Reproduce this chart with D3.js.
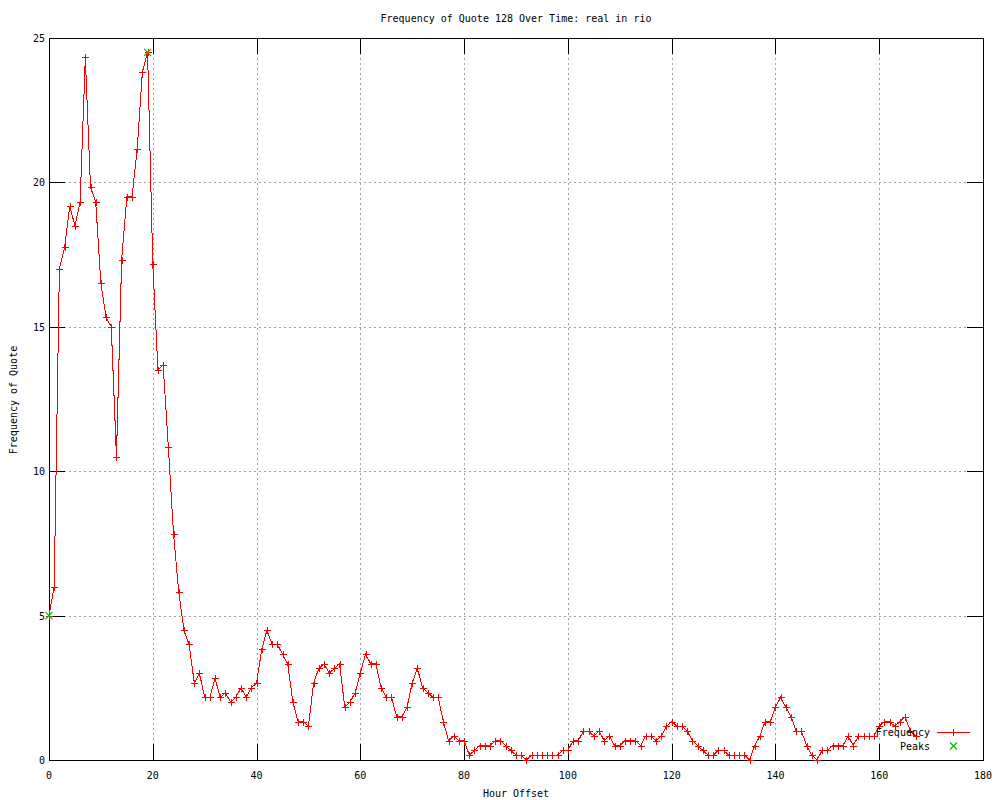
<!DOCTYPE html>
<html>
<head>
<meta charset="utf-8">
<script src="https://cdn.jsdelivr.net/npm/d3@7"></script>
<style>
  body { margin: 0; background: #fff; }
  text { font-family: "DejaVu Sans Mono", monospace; font-size: 10px; fill: #000; }
</style>
</head>
<body>
<svg id="chart" width="1000" height="800"></svg>
<script>
// frequency per hour offset (hour = index)
const values = [
  5, 6, 17, 17.75, 19.17, 18.5, 19.33, 24.33, 19.83, 19.33,
  16.5, 15.33, 15, 10.5, 17.33, 19.5, 19.5, 21.17, 23.83, 24.5,
  17.17, 13.5, 13.67, 10.83, 7.83, 5.83, 4.5, 4.0, 2.67, 3.0,
  2.17, 2.17, 2.83, 2.17, 2.33, 2.0, 2.17, 2.5, 2.17, 2.5,
  2.67, 3.83, 4.5, 4.0, 4.0, 3.67, 3.33, 2.0, 1.33, 1.33,
  1.17, 2.67, 3.17, 3.33, 3.0, 3.17, 3.33, 1.83, 2.0, 2.33,
  3.0, 3.67, 3.33, 3.33, 2.5, 2.17, 2.17, 1.5, 1.5, 1.83,
  2.67, 3.17, 2.5, 2.33, 2.17, 2.17, 1.33, 0.67, 0.83, 0.67,
  0.67, 0.17, 0.33, 0.5, 0.5, 0.5, 0.67, 0.67, 0.5, 0.33,
  0.17, 0.17, 0, 0.17, 0.17, 0.17, 0.17, 0.17, 0.17, 0.33,
  0.33, 0.67, 0.67, 1.0, 1.0, 0.83, 1.0, 0.67, 0.83, 0.5,
  0.5, 0.67, 0.67, 0.67, 0.5, 0.83, 0.83, 0.67, 0.83, 1.17,
  1.33, 1.17, 1.17, 1.0, 0.67, 0.5, 0.33, 0.17, 0.17, 0.33,
  0.33, 0.17, 0.17, 0.17, 0.17, 0, 0.5, 0.83, 1.33, 1.33,
  1.83, 2.17, 1.83, 1.5, 1.0, 1.0, 0.5, 0.17, 0, 0.33,
  0.33, 0.5, 0.5, 0.5, 0.83, 0.5, 0.83, 0.83, 0.83, 0.83,
  1.17, 1.33, 1.33, 1.17, 1.33, 1.5, 1.0, 0.83
];
const peakHours = [0, 19];
const peakValues = [5, 24.5];

const xTicks = [0, 20, 40, 60, 80, 100, 120, 140, 160, 180];
const yTicks = [0, 5, 10, 15, 20, 25];

const WIDTH = 1000, HEIGHT = 800;
const margin = { top: 38, right: 17, bottom: 40, left: 49 };

const svg = d3.select("#chart");

const x = d3.scaleLinear().domain([0, 180]).range([margin.left, WIDTH - margin.right]);
const y = d3.scaleLinear().domain([0, 25]).range([HEIGHT - margin.bottom, margin.top]);

const data = values.map((v, i) => ({ hour: i, value: v }));
const peaks = peakHours.map((h, i) => ({ hour: h, value: peakValues[i] }));

const x0 = x.range()[0], x1 = x.range()[1];
const y0 = y.range()[0], y1 = y.range()[1];
const TICK = 16;

// grid
const grid = svg.append("g")
  .attr("stroke", "#a0a0a0")
  .attr("stroke-dasharray", "2,3")
  .attr("shape-rendering", "crispEdges");

grid.selectAll(".gx")
  .data(xTicks.filter(d => d > 0 && d < 180))
  .join("line")
  .attr("x1", d => Math.round(x(d)) + 0.5).attr("x2", d => Math.round(x(d)) + 0.5)
  .attr("y1", y0).attr("y2", y1);

grid.selectAll(".gy")
  .data(yTicks.filter(d => d > 0 && d < 25))
  .join("line")
  .attr("y1", d => Math.round(y(d)) + 0.5).attr("y2", d => Math.round(y(d)) + 0.5)
  .attr("x1", x0).attr("x2", x1);

// ticks on all four sides, pointing inward
const ticks = svg.append("g").attr("stroke", "#000").attr("shape-rendering", "crispEdges");
xTicks.forEach(t => {
  const px = Math.round(x(t)) + 0.5;
  ticks.append("line").attr("x1", px).attr("x2", px).attr("y1", y0).attr("y2", y0 - TICK);
  ticks.append("line").attr("x1", px).attr("x2", px).attr("y1", y1).attr("y2", y1 + TICK);
});
yTicks.forEach(t => {
  const py = Math.round(y(t)) + 0.5;
  ticks.append("line").attr("y1", py).attr("y2", py).attr("x1", x0).attr("x2", x0 + TICK);
  ticks.append("line").attr("y1", py).attr("y2", py).attr("x1", x1).attr("x2", x1 - TICK);
});

// border
svg.append("rect")
  .attr("x", Math.round(x0) + 0.5).attr("y", Math.round(y1) + 0.5)
  .attr("width", Math.round(x1) - Math.round(x0))
  .attr("height", Math.round(y0) - Math.round(y1))
  .attr("fill", "none").attr("stroke", "#000")
  .attr("shape-rendering", "crispEdges");

// tick labels
svg.append("g").selectAll("text")
  .data(xTicks)
  .join("text")
  .attr("x", d => x(d))
  .attr("y", y0 + 19)
  .attr("text-anchor", "middle")
  .text(d => d);

svg.append("g").selectAll("text")
  .data(yTicks)
  .join("text")
  .attr("x", x0 - 4)
  .attr("y", d => y(d) + 4)
  .attr("text-anchor", "end")
  .text(d => d);

// titles
svg.append("text")
  .attr("x", 516).attr("y", 22)
  .attr("text-anchor", "middle")
  .text("Frequency of Quote 128 Over Time: real in rio");

svg.append("text")
  .attr("x", 516).attr("y", 797)
  .attr("text-anchor", "middle")
  .text("Hour Offset");

svg.append("text")
  .attr("transform", "translate(17,400) rotate(-90)")
  .attr("text-anchor", "middle")
  .text("Frequency of Quote");

// frequency line
const line = d3.line().x(d => x(d.hour)).y(d => y(d.value));
svg.append("path")
  .datum(data)
  .attr("fill", "none")
  .attr("stroke", "#ff0000")
  .attr("stroke-width", 1)
  .attr("shape-rendering", "crispEdges")
  .attr("d", line);

const plus = (g, s) => g.append("path")
  .attr("d", `M${-s},0H${s}M0,${-s}V${s}`)
  .attr("stroke", "#ff0000").attr("fill", "none")
  .attr("shape-rendering", "crispEdges");

svg.append("g").selectAll("g")
  .data(data)
  .join("g")
  .attr("transform", d => `translate(${Math.round(x(d.hour)) + 0.5},${Math.round(y(d.value)) + 0.5})`)
  .each(function () { plus(d3.select(this), 3.5); });

// peaks
const cross = (g, s) => g.append("path")
  .attr("d", `M${-s},${-s}L${s},${s}M${-s},${s}L${s},${-s}`)
  .attr("stroke", "#00c000").attr("stroke-width", 1.2).attr("fill", "none");

svg.append("g").selectAll("g")
  .data(peaks)
  .join("g")
  .attr("transform", d => `translate(${x(d.hour)},${y(d.value)})`)
  .each(function () { cross(d3.select(this), 3.5); });

// legend
const legend = svg.append("g");
legend.append("text").attr("x", 930).attr("y", 736).attr("text-anchor", "end").text("Frequency");
legend.append("line").attr("x1", 937).attr("x2", 970).attr("y1", 732.5).attr("y2", 732.5)
  .attr("stroke", "#ff0000").attr("shape-rendering", "crispEdges");
plus(legend.append("g").attr("transform", "translate(953.5,732.5)"), 3.5);
legend.append("text").attr("x", 930).attr("y", 750).attr("text-anchor", "end").text("Peaks");
cross(legend.append("g").attr("transform", "translate(953.5,746)"), 3.5);
</script>
</body>
</html>
